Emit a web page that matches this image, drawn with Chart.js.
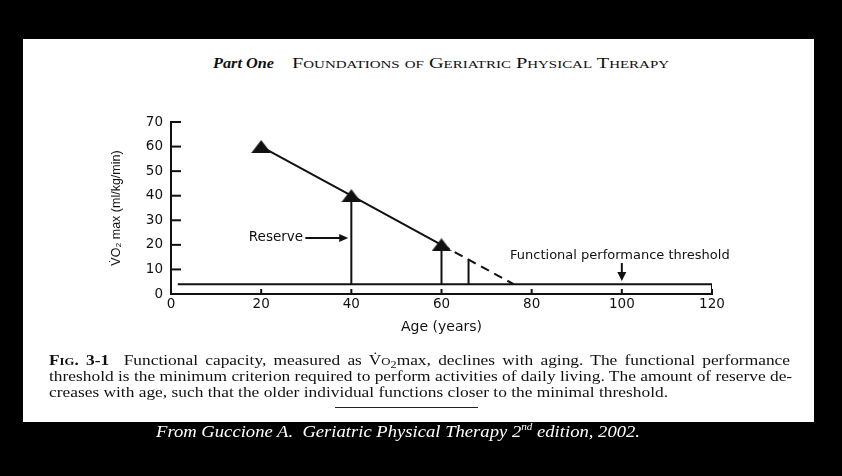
<!DOCTYPE html>
<html><head><meta charset="utf-8">
<script src="https://cdn.jsdelivr.net/npm/chart.js@4/dist/chart.umd.min.js"></script>
<style>
html,body{margin:0;padding:0;background:#000;width:842px;height:476px;overflow:hidden;position:relative;}
#page{position:absolute;left:23px;top:39px;width:791px;height:383px;background:#fff;}
#c{position:absolute;left:0;top:0;}
.t{position:absolute;white-space:nowrap;transform-origin:0 0;color:#111;line-height:1;font-family:'Liberation Serif',serif;}
.sc{font-variant:small-caps;}
.sub{font-size:0.7em;position:relative;top:0.25em;}
.sup{font-size:0.6em;position:relative;top:-0.65em;}
#rule{position:absolute;left:335px;top:407px;width:143px;height:1px;background:#222;}
</style></head><body>
<div id="page"></div>
<div class="t" id="h1" style="left:213px;top:56px;font-size:15px;font-weight:bold;font-style:italic;">Part One</div>
<div class="t sc" id="h2" style="left:292px;top:56px;font-size:15px;">Foundations of Geriatric Physical Therapy</div>
<canvas id="c" width="842" height="476"></canvas>
<div class="t" id="l1" style="left:49px;top:353px;font-size:15px;text-align:justify;text-align-last:justify;"><b class="sc">Fig. 3-1</b>&nbsp; Functional capacity, measured as V&#775;<span class="sc">o</span><span class="sub">2</span>max, declines with aging. The functional performance</div>
<div class="t" id="l2" style="left:49px;top:368.5px;font-size:15px;text-align:justify;text-align-last:justify;">threshold is the minimum criterion required to perform activities of daily living. The amount of reserve de-</div>
<div class="t" id="l3" style="left:49px;top:384.5px;font-size:15px;">creases with age, such that the older individual functions closer to the minimal threshold.</div>
<div id="rule"></div>
<div class="t" id="ft" style="left:156px;top:423px;font-size:17px;font-style:italic;color:#fff;">From Guccione A.&nbsp; Geriatric Physical Therapy 2<span class="sup">nd</span> edition, 2002.</div>
<script>
// ---- data ----
const xTicks = [0, 20, 40, 60, 80, 100, 120];
const yTicks = [0, 10, 20, 30, 40, 50, 60, 70];
const ages = [20, 40, 60];
const vo2 = [60, 40, 20];
const dashAges = [60, 76];
const dashVo2 = [20, 4];
const thresholdAges = [1.5, 120, 120];
const thresholdVals = [4, 4, 0];
const reserveAges = [40, 60, 66];
const reserveTops = [40, 20, 14];
const reserveBase = 4;
const xTitle = 'Age (years)';
const yTitle = 'V\u0307O\u2082 max (ml/kg/min)';
const reserveLabel = 'Reserve';
const reserveLabelAt = {x: 29.3, y: 22.8};
const reserveArrow = {from: 29.8, to: 39.3, y: 22.8};
const thresholdLabel = 'Functional performance threshold';
const thresholdLabelAt = {x: 75.2, y: 15.6};
const thresholdArrow = {x: 100, from: 12.6, to: 5.3};

// ---- text fitting (HTML) ----
function fitW(id, w){ const el=document.getElementById(id); const r=el.getBoundingClientRect().width; el.style.transform='scaleX('+(w/r)+')'; return w/r; }
fitW('h1', 61); fitW('h2', 377); fitW('ft', 484);
const s = fitW('l3', 619);
['l1','l2'].forEach(id=>{ const el=document.getElementById(id); el.style.width=(741/s)+'px'; el.style.transform='scaleX('+s+')'; });

// ---- point image ----
const tri = document.createElement('canvas'); tri.width = 20; tri.height = 13;
(function(){ const g = tri.getContext('2d'); g.fillStyle = '#111'; g.beginPath(); g.moveTo(10, 0); g.lineTo(20, 13); g.lineTo(0, 13); g.closePath(); g.fill(); })();

const pts = (xs, ys) => xs.map((x, i) => ({x: x, y: ys[i]}));
const reserveData = [];
reserveAges.forEach((a, i) => { reserveData.push({x: a, y: reserveBase}, {x: a, y: reserveTops[i]}, {x: a, y: null}); });

const ink = '#111';
const overlay = {
  id: 'overlay',
  afterDraw(chart){
    const {ctx, scales: {x, y}} = chart;
    ctx.save();
    ctx.strokeStyle = ink; ctx.fillStyle = ink; ctx.lineWidth = 2;
    yTicks.forEach(v => { const py = y.getPixelForValue(v); ctx.beginPath(); ctx.moveTo(x.left, py); ctx.lineTo(x.left + 10, py); ctx.stroke(); });
    xTicks.forEach(v => { const px = x.getPixelForValue(v); ctx.beginPath(); ctx.moveTo(px, y.bottom); ctx.lineTo(px, y.bottom - 5); ctx.stroke(); });
    ctx.font = '13.5px "DejaVu Sans"'; ctx.textBaseline = 'middle';
    // Reserve
    ctx.textAlign = 'right';
    ctx.fillText(reserveLabel, x.getPixelForValue(reserveLabelAt.x), y.getPixelForValue(reserveLabelAt.y));
    let ay = y.getPixelForValue(reserveArrow.y), ax0 = x.getPixelForValue(reserveArrow.from), ax1 = x.getPixelForValue(reserveArrow.to);
    ctx.lineWidth = 2; ctx.beginPath(); ctx.moveTo(ax0, ay); ctx.lineTo(ax1 - 7, ay); ctx.stroke();
    ctx.beginPath(); ctx.moveTo(ax1, ay); ctx.lineTo(ax1 - 9, ay - 4); ctx.lineTo(ax1 - 9, ay + 4); ctx.closePath(); ctx.fill();
    // Threshold
    ctx.textAlign = 'left';
    ctx.font = '13px "DejaVu Sans"';
    ctx.fillText(thresholdLabel, x.getPixelForValue(thresholdLabelAt.x), y.getPixelForValue(thresholdLabelAt.y));
    const tx = x.getPixelForValue(thresholdArrow.x), ty0 = y.getPixelForValue(thresholdArrow.from), ty1 = y.getPixelForValue(thresholdArrow.to);
    ctx.lineWidth = 2; ctx.beginPath(); ctx.moveTo(tx, ty0); ctx.lineTo(tx, ty1 - 7); ctx.stroke();
    ctx.beginPath(); ctx.moveTo(tx, ty1); ctx.lineTo(tx - 4.5, ty1 - 9); ctx.lineTo(tx + 4.5, ty1 - 9); ctx.closePath(); ctx.fill();
    ctx.restore();
  }
};

new Chart(document.getElementById('c'), {
  type: 'line',
  data: {
    datasets: [
      {data: pts(ages, vo2), borderColor: ink, borderWidth: 2, pointStyle: tri, pointRadius: 10, pointHoverRadius: 10, tension: 0},
      {data: pts(dashAges, dashVo2), borderColor: ink, borderWidth: 2, borderDash: [9, 6], pointRadius: 0, tension: 0},
      {data: reserveData, borderColor: ink, borderWidth: 2, pointRadius: 0, spanGaps: false, tension: 0},
      {data: pts(thresholdAges, thresholdVals), borderColor: ink, borderWidth: 2, pointRadius: 0, tension: 0, borderCapStyle: 'butt'}
    ]
  },
  options: {
    responsive: false, animation: false, devicePixelRatio: 1,
    layout: {padding: {left: 109, right: 130, top: 122, bottom: 140}},
    plugins: {legend: {display: false}, tooltip: {enabled: false}},
    scales: {
      x: {
        type: 'linear', min: 0, max: 120,
        afterBuildTicks: sc => { sc.ticks = xTicks.map(v => ({value: v})); },
        afterFit: sc => { sc.height = 42; },
        grid: {display: false, drawTicks: false, tickLength: 0},
        border: {display: true, color: ink, width: 2},
        ticks: {color: ink, font: {family: 'DejaVu Sans', size: 13.5}, padding: 2, maxRotation: 0, autoSkip: false},
        title: {display: true, text: xTitle, color: ink, font: {family: 'DejaVu Sans', size: 14}, padding: 0}
      },
      y: {
        type: 'linear', min: 0, max: 70,
        afterBuildTicks: sc => { sc.ticks = yTicks.map(v => ({value: v})); },
        afterFit: sc => { sc.width = 62; },
        grid: {display: false, drawTicks: false, tickLength: 0},
        border: {display: true, color: ink, width: 2},
        ticks: {color: ink, font: {family: 'DejaVu Sans', size: 13.5}, padding: 8, autoSkip: false},
        title: {display: true, text: yTitle, color: ink, font: {family: 'Liberation Sans', size: 12.5}, padding: 0}
      }
    }
  },
  plugins: [overlay]
});
</script>
</body></html>
